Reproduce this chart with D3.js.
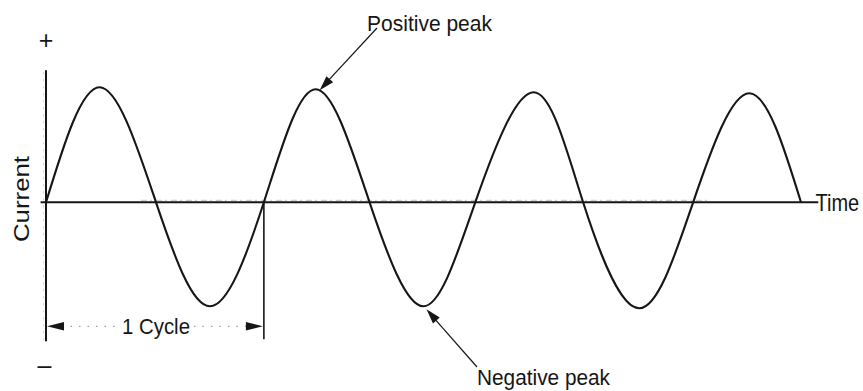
<!DOCTYPE html>
<html>
<head>
<meta charset="utf-8">
<script src="https://cdn.jsdelivr.net/npm/d3@7"></script>
<style>
  html, body { margin: 0; padding: 0; background: #fff; }
  svg { display: block; }
  text { font-family: "Liberation Sans", Arial, Helvetica, sans-serif; fill: #161616; }
</style>
</head>
<body>
<script>
// Alternating current: zero crossings and peaks of the waveform, in cycles and relative current
const timeCycles = [0, 0.25, 0.51, 0.76, 1.01, 1.25, 1.50, 1.75, 1.99, 2.26, 2.49, 2.75, 3.00, 3.26, 3.50];
const current    = [0, 1.15, 0, -1.04, 0, 1.13, 0, -1.04, 0, 1.10, 0, -1.06, 0, 1.09, 0];

// Callout labels
const axisLabels = { x: "Time", y: "Current", plus: "+", minus: "\u2013" };
const peakLabels = ["Positive peak", "Negative peak"];
const peakIndex = [5, 7];          // which samples the callouts point at
const cycleLabel = "1 Cycle";
const cycleSpan = [0, 4];          // sample indices bounding one full cycle

const W = 863, H = 391;
const ink = "#161616";
const fs = 22.5;

const svg = d3.select("body").append("svg")
  .attr("width", W).attr("height", H)
  .attr("viewBox", `0 0 ${W} ${H}`);

const x = d3.scaleLinear().domain([0, 3.5]).range([46, 801]);
const y = d3.scaleLinear().domain([-1.4, 1.4]).range([342.3, 62.3]);

const pts = timeCycles.map((t, i) => [t, current[i]]);

// faint guide marks along the axes
svg.append("line")
  .attr("x1", x(0.44)).attr("x2", x(3.07))
  .attr("y1", y(0) - 2).attr("y2", y(0) - 2)
  .attr("stroke", "#c4c4c4").attr("stroke-width", 1)
  .attr("stroke-dasharray", "6,3,2,4");
svg.append("line")
  .attr("x1", x(0) - 2.5).attr("x2", x(0) - 2.5)
  .attr("y1", y(1.3)).attr("y2", y(-1.38))
  .attr("stroke", "#d4d4d4").attr("stroke-width", 1)
  .attr("stroke-dasharray", "2,5");

// axes
svg.append("line")
  .attr("x1", x(0)).attr("x2", x(0))
  .attr("y1", y(1.32)).attr("y2", y(-1.39))
  .attr("stroke", ink).attr("stroke-width", 2);
svg.append("line")
  .attr("x1", x(-0.025)).attr("x2", x(3.58))
  .attr("y1", y(0)).attr("y2", y(0))
  .attr("stroke", ink).attr("stroke-width", 2);

// waveform
const line = d3.line()
  .x(d => x(d[0])).y(d => y(d[1]))
  .curve(d3.curveNatural);
svg.append("path")
  .datum(pts)
  .attr("d", line)
  .attr("fill", "none")
  .attr("stroke", ink)
  .attr("stroke-width", 2.1)
  .attr("stroke-linejoin", "round");

// arrowhead polygon pointing at (tx, ty) from direction (fx, fy)
function arrowHead(g, tx, ty, fx, fy, len, half) {
  const dx = fx - tx, dy = fy - ty, d = Math.hypot(dx, dy);
  const ux = dx / d, uy = dy / d;
  const bx = tx + ux * len, by = ty + uy * len;
  const px = -uy * half, py = ux * half;
  g.append("polygon")
    .attr("points", [[tx, ty], [bx + px, by + py], [bx - px, by - py]].map(p => p.join(",")).join(" "))
    .attr("fill", ink);
}

// one-cycle span marker
const c0 = x(timeCycles[cycleSpan[0]]), c1 = x(timeCycles[cycleSpan[1]]);
const cy = y(-1.24);
svg.append("line")
  .attr("x1", c1).attr("x2", c1)
  .attr("y1", y(0)).attr("y2", y(-1.37))
  .attr("stroke", ink).attr("stroke-width", 1.6);
const span = svg.append("g");
span.append("line")
  .attr("x1", c0 + 16).attr("x2", c0 + 70).attr("y1", cy).attr("y2", cy)
  .attr("stroke", "#a0a0a0").attr("stroke-width", 1.2).attr("stroke-dasharray", "1.5,7");
span.append("line")
  .attr("x1", c1 - 70).attr("x2", c1 - 16).attr("y1", cy).attr("y2", cy)
  .attr("stroke", "#a0a0a0").attr("stroke-width", 1.2).attr("stroke-dasharray", "1.5,7");
arrowHead(span, c0 + 1, cy, c1, cy, 17, 4.2);
arrowHead(span, c1 - 1, cy, c0, cy, 17, 4.2);
svg.append("text")
  .attr("x", 122).attr("y", 333.5)
  .attr("font-size", fs)
  .attr("textLength", 68).attr("lengthAdjust", "spacingAndGlyphs")
  .text(cycleLabel);

// peak callouts
const posTip = [x(timeCycles[peakIndex[0]]) + 4, y(current[peakIndex[0]]) + 1];
const posFrom = [377, 28];
svg.append("line")
  .attr("x1", posFrom[0]).attr("y1", posFrom[1])
  .attr("x2", posTip[0] + 6).attr("y2", posTip[1] - 7)
  .attr("stroke", ink).attr("stroke-width", 1.2);
arrowHead(svg, posTip[0], posTip[1], posFrom[0], posFrom[1], 15, 4.5);
svg.append("text")
  .attr("x", 367).attr("y", 30.5)
  .attr("font-size", fs)
  .attr("textLength", 125).attr("lengthAdjust", "spacingAndGlyphs")
  .text(peakLabels[0]);

const negTip = [x(timeCycles[peakIndex[1]]) + 3, y(current[peakIndex[1]]) + 3];
const negFrom = [477, 367];
svg.append("line")
  .attr("x1", negFrom[0]).attr("y1", negFrom[1])
  .attr("x2", negTip[0] + 6).attr("y2", negTip[1] + 7)
  .attr("stroke", ink).attr("stroke-width", 1.2);
arrowHead(svg, negTip[0], negTip[1], negFrom[0], negFrom[1], 15, 4.5);
svg.append("text")
  .attr("x", 477).attr("y", 384.5)
  .attr("font-size", fs)
  .attr("textLength", 133).attr("lengthAdjust", "spacingAndGlyphs")
  .text(peakLabels[1]);

// axis labels ("Time" stretched vertically so it keeps its narrow width near the edge)
svg.append("text")
  .attr("transform", "translate(815.5,211) scale(1,1.16)")
  .attr("font-size", 20)
  .text(axisLabels.x);
svg.append("text")
  .attr("transform", "translate(28.5,199) rotate(-90)")
  .attr("text-anchor", "middle")
  .attr("font-size", fs)
  .attr("textLength", 86).attr("lengthAdjust", "spacingAndGlyphs")
  .text(axisLabels.y);
svg.append("text")
  .attr("x", 46).attr("y", 49)
  .attr("text-anchor", "middle")
  .attr("font-size", 25)
  .text(axisLabels.plus);
svg.append("text")
  .attr("x", 44.5).attr("y", 374)
  .attr("text-anchor", "middle")
  .attr("font-size", 25)
  .text(axisLabels.minus);
</script>
</body>
</html>
